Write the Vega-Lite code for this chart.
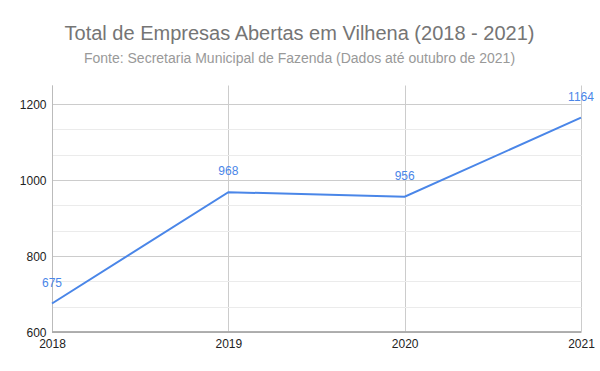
{
  "$schema": "https://vega.github.io/schema/vega-lite/v6.json",
  "autosize": "none",
  "width": 529,
  "height": 247,
  "padding": {"left": 52, "top": 85, "right": 19, "bottom": 39},
  "background": "white",
  "config": {"view": {"stroke": null}, "font": "Liberation Sans"},
  "title": {
    "text": "Total de Empresas Abertas em Vilhena (2018 - 2021)",
    "subtitle": "Fonte: Secretaria Municipal de Fazenda (Dados até outubro de 2021)",
    "anchor": "middle",
    "dx": -17,
    "fontSize": 20,
    "fontWeight": "normal",
    "color": "#757575",
    "subtitleFontSize": 14,
    "subtitleColor": "#999999",
    "subtitlePadding": 8,
    "offset": 19,
    "font": "Liberation Sans",
    "subtitleFont": "Liberation Sans"
  },
  "data": {
    "values": [
      {"ano": 2018, "empresas": 675},
      {"ano": 2019, "empresas": 968},
      {"ano": 2020, "empresas": 956},
      {"ano": 2021, "empresas": 1164}
    ]
  },
  "encoding": {
    "x": {
      "field": "ano",
      "type": "quantitative",
      "scale": {"domain": [2018, 2021], "nice": false, "zero": false},
      "axis": {
        "title": null,
        "values": [2018, 2019, 2020, 2021],
        "format": "d",
        "ticks": false,
        "domain": false,
        "grid": true,
        "gridColor": "#cccccc",
        "labelFontSize": 12,
        "labelColor": "#222222",
        "labelPadding": 6,
        "labelFlush": false
      }
    },
    "y": {
      "field": "empresas",
      "type": "quantitative",
      "scale": {"domain": [600, 1250], "nice": false, "zero": false},
      "axis": {
        "title": null,
        "values": [600, 666.667, 733.333, 800, 866.667, 933.333, 1000, 1066.667, 1133.333, 1200],
        "labelExpr": "datum.value % 200 === 0 ? datum.label : ''",
        "format": "d",
        "ticks": false,
        "domain": true,
        "domainColor": "#bbbbbb",
        "grid": true,
        "gridColor": {"condition": {"test": "datum.value % 200 === 0", "value": "#cccccc"}, "value": "#ebebeb"},
        "labelFontSize": 12,
        "labelColor": "#222222",
        "labelPadding": 6
      }
    }
  },
  "layer": [
    {
      "mark": {"type": "rule", "color": "#aaaaaa"},
      "encoding": {
        "y": {"datum": 600, "type": "quantitative"},
        "x": {"value": 0},
        "x2": {"value": 529}
      }
    },
    {
      "mark": {"type": "line", "color": "#4a86e8", "strokeWidth": 2}
    },
    {
      "mark": {"type": "text", "color": "#4a86e8", "fontSize": 12, "dy": -21, "font": "Liberation Sans"},
      "encoding": {"text": {"field": "empresas", "type": "quantitative"}}
    }
  ]
}
